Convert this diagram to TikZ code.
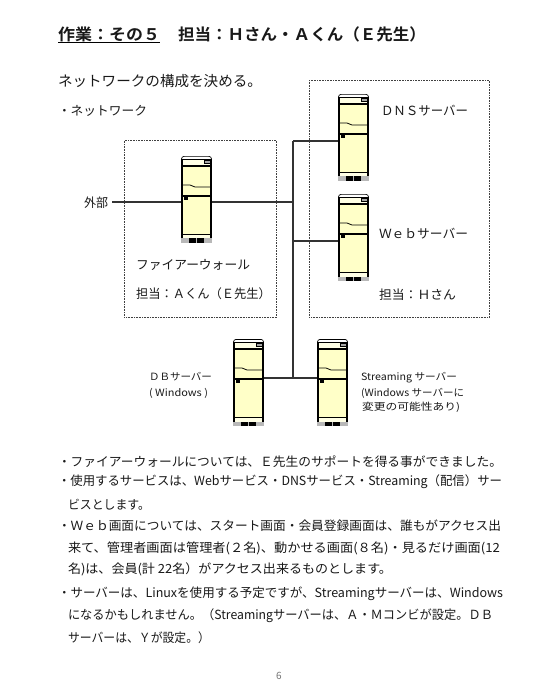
\documentclass[tikz,border=0pt]{standalone}
\usepackage{graphicx}
\usepackage{fontspec}
\setmainfont{Noto Sans CJK JP}
\newfontface\titlefont{Noto Sans CJK JP Bold}
\newcommand{\fitw}[2]{\resizebox{#1pt}{\height}{#2}}
\newcommand{\zc}{^^^^ff1a}
\newcommand{\zl}{^^^^ff08}
\newcommand{\zr}{^^^^ff09}
\newcommand{\zA}{^^^^ff21}
\newcommand{\zB}{^^^^ff22}
\newcommand{\zD}{^^^^ff24}
\newcommand{\zE}{^^^^ff25}
\newcommand{\zH}{^^^^ff28}
\newcommand{\zM}{^^^^ff2d}
\newcommand{\zN}{^^^^ff2e}
\newcommand{\zS}{^^^^ff33}
\newcommand{\zW}{^^^^ff37}
\newcommand{\zY}{^^^^ff39}
\newcommand{\ze}{^^^^ff45}
\newcommand{\zb}{^^^^ff42}
\newcommand{\ztwo}{^^^^ff12}
\newcommand{\zfive}{^^^^ff15}
\newcommand{\zeight}{^^^^ff18}
\definecolor{srvyellow}{HTML}{FFFFC8}
\definecolor{srvpale}{HTML}{FFFFE6}
\tikzset{
  conn/.style={draw=black!80,line width=1.5pt},
  dotbox/.style={draw=black!75,line width=0.6pt,densely dotted},
  srvframe/.style={minimum width=31pt,minimum height=87pt,inner sep=0pt,outer sep=0pt},
  txt/.style={anchor=west,inner sep=0pt,outer sep=0pt,text=black!90},
  body/.style={txt,yshift=-1pt,font=\fontsize{12.6pt}{14pt}\selectfont},
  small/.style={txt,yshift=-0.5pt,font=\fontsize{10pt}{12pt}\selectfont},
  serverunit/.pic={
    \fill[white] (0,3) to[out=90,in=180] (3,0) -- (28,0) to[out=0,in=90] (31,3) -- (31,10) -- (0,10) -- cycle;
    \draw[black,line width=0.7pt] (0.5,3) to[out=90,in=180] (3,0.4) -- (28,0.4) to[out=0,in=90] (30.5,3);
    \fill[srvpale] (0,3) rectangle (31,10);
    \fill[black] (0,2.6) rectangle (31,3.4);
    \fill[srvyellow] (0,10) rectangle (31,78);
    \fill[srvpale] (0,78) rectangle (31,82.5);
    \fill[black] (8,82.5) rectangle (15,87);
    \fill[black] (16,82.5) rectangle (23,87);
    \fill[black!28] (0,82.5) rectangle (8,87);
    \fill[black!28] (15,82.5) rectangle (16,87);
    \fill[black!28] (23,82.5) rectangle (31,87);
    \draw[black,line width=0.6pt,fill=black!35] (23,4.6) rectangle (30,7);
    \fill[black] (0,9.4) rectangle (31,11.2);
    \fill[black] (0,39.2) rectangle (31,41);
    \fill[black] (0,3) rectangle (2,82.5);
    \fill[black] (29,3) rectangle (31,82.5);
    \draw[black,line width=0.7pt] (0,78.2) -- (31,78.2);
    \draw[black,line width=0.8pt] (2,29) -- (9,29) -- (14,31) -- (29,31);
    \fill[black] (3,41) rectangle (7,44);
  }
}
\begin{document}
\begin{tikzpicture}[x=1pt,y=-1pt]
\useasboundingbox[fill=white] (0,0) rectangle (550,700);

% dotted frames
\node[dotbox,anchor=north west,minimum width=152pt,minimum height=177pt,inner sep=0pt] (boxL) at (124,140) {};
\node[dotbox,anchor=north west,minimum width=180pt,minimum height=237pt,inner sep=0pt] (boxR) at (309,80) {};

% title
\node[txt,font=\titlefont\fontsize{16pt}{18pt}\selectfont] (t1) at (58,34) {\fitw{102}{作業\zc{}その\zfive{}}};
\node[txt,font=\titlefont\fontsize{16pt}{18pt}\selectfont] (t2) at (178,34) {\fitw{248}{担当\zc{}\zH{}さん・\zA{}くん\zl{}\zE{}先生\zr{}}};
\draw[black,line width=1pt] (t1.west |- 0,43) -- (t1.east |- 0,43);

\node[txt,yshift=-0.5pt,font=\fontsize{14.4pt}{16pt}\selectfont] (intro) at (58,81) {\fitw{204}{ネットワークの構成を決める。}};
\node[body] (sec) at (58,110) {\fitw{89}{・ネットワーク}};

% servers
\node[srvframe] (fw)  at (196.5,199.5) {};
\node[srvframe] (dns) at (353.5,137.5) {};
\node[srvframe] (web) at (353.5,237.5) {};
\node[srvframe] (db)  at (248.5,382.5) {};
\node[srvframe] (st)  at (332.5,382.5) {};
\pic at (fw.north west) {serverunit};
\pic at (dns.north west) {serverunit};
\pic at (web.north west) {serverunit};
\pic at (db.north west) {serverunit};
\pic at (st.north west) {serverunit};

% connectors
\coordinate (ext) at (112,202);
\coordinate (jtop) at (293,141);
\coordinate (jfw) at (293,202);
\coordinate (jweb) at (293,241);
\coordinate (jbot) at (293,378);
\draw[conn] (ext) -- (ext -| fw.west);
\draw[conn] (jfw -| fw.east) -- (jfw);
\draw[conn] (jtop) -- (jtop -| dns.west);
\draw[conn] (jweb) -- (jweb -| web.west);
\draw[conn] (jtop) -- (jbot);
\draw[conn] (jbot -| db.east) -- (jbot -| st.west);

% labels
\node[body] (lext) at (84,202) {\fitw{24}{外部}};
\node[body] (ldns) at (381,110) {\fitw{87}{\zD{}\zN{}\zS{}サーバー}};
\node[body] (lweb) at (379,233) {\fitw{89}{\zW{}\ze{}\zb{}サーバー}};
\node[body] (lfw) at (136,264) {\fitw{114}{ファイアーウォール}};
\node[body] (lfwa) at (136,293) {\fitw{135}{担当\zc{}\zA{}くん\zl{}\zE{}先生\zr{}}};
\node[body] (lwa) at (379,294) {\fitw{77}{担当\zc{}\zH{}さん}};
\node[small] (ldb) at (149,376) {\fitw{63}{\zD{}\zB{}サーバー}};
\node[small] (ldbw) at (149,393) {\fitw{59}{( Windows )}};
\node[small] (ls1) at (361,377) {\fitw{96}{Streaming サーバー}};
\node[small] (ls2) at (361,393) {\fitw{103}{(Windows サーバーに}};
\node[small] (ls3) at (362,407) {\fitw{98}{変更の可能性あり)}};

% body text
\node[body] (b1) at (58,461) {\fitw{444}{・ファイアーウォールについては、\zE{}先生のサポートを得る事ができました。}};
\node[body] (b2) at (58,481) {\fitw{444}{・使用するサービスは、Webサービス・DNSサービス・Streaming\zl{}配信\zr{}サー}};
\node[body] (b3) at (68,504) {\fitw{82}{ビスとします。}};
\node[body] (b4) at (58,525) {\fitw{443}{・\zW{}\ze{}\zb{}画面については、スタート画面・会員登録画面は、誰もがアクセス出}};
\node[body] (b5) at (68,547) {\fitw{432}{来て、管理者画面は管理者(\ztwo{}名)、動かせる画面(\zeight{}名)・見るだけ画面(12}};
\node[body] (b6) at (68,568) {\fitw{324}{名)は、会員(計 22名\zr{}がアクセス出来るものとします。}};
\node[body] (b7) at (58,593) {\fitw{445}{・サーバーは、Linuxを使用する予定ですが、Streamingサーバーは、Windows}};
\node[body] (b8) at (68,615) {\fitw{425}{になるかもしれません。\zl{}Streamingサーバーは、\zA{}・\zM{}コンビが設定。\zD{}\zB{}}};
\node[body] (b9) at (68,637) {\fitw{142}{サーバーは、\zY{}が設定。\zr{}}};
\node[txt,font=\fontsize{10pt}{12pt}\selectfont,text=black!55] (pg) at (276,676) {6};
\end{tikzpicture}
\end{document}
